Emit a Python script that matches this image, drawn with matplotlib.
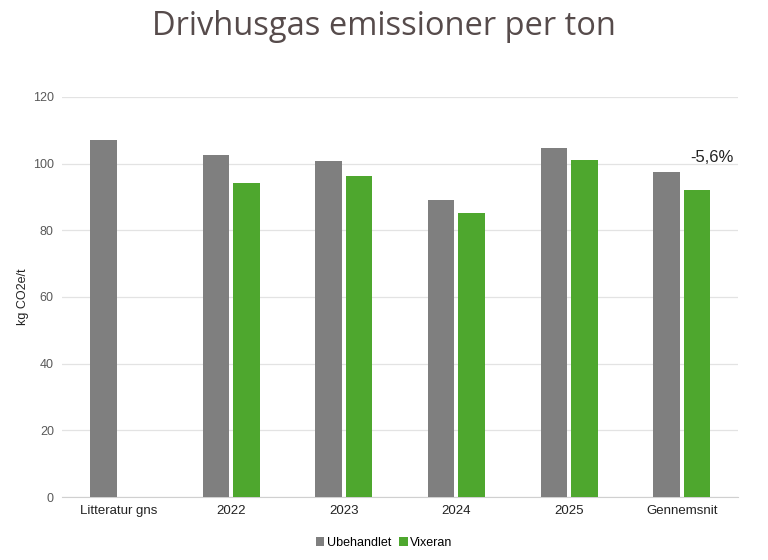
import numpy as np
import matplotlib.pyplot as plt

# data
categories = ['Litteratur gns', '2022', '2023', '2024', '2025', 'Gennemsnit']
ubehandlet = [107.0, 102.6, 100.8, 89.1, 104.7, 97.5]
vixeran = [np.nan, 94.2, 96.3, 85.2, 101.1, 92.1]
change_label = '-5,6%'

grey = '#7f7f7f'
green = '#4ea72e'
text_grey = '#595959'

fig = plt.figure(figsize=(7.68, 5.6), dpi=100)
ax = fig.add_axes([0.081, 0.1125, 0.88, 0.7145])

x = np.arange(len(categories))
w = 0.235
ax.bar(x - 0.135, ubehandlet, width=w, color=grey, label='Ubehandlet', zorder=3)
ax.bar(x + 0.135, vixeran, width=w, color=green, label='Vixeran', zorder=3)

# percentage change over the average bars
ax.text(x[-1] + 0.27, 99.5, change_label, fontsize=12, color='#222222',
        ha='center', va='bottom', family='Liberation Sans')

ax.set_xlim(-0.5, len(categories) - 0.5)
ax.set_ylim(0, 120)
ax.set_yticks(range(0, 121, 20))
ax.set_xticks(x)
ax.set_xticklabels(categories, fontsize=9.5, color='#222222', family='Liberation Sans')
for lab in ax.get_yticklabels():
    lab.set_fontsize(9)
    lab.set_color(text_grey)
    lab.set_family('Liberation Sans')
ax.tick_params(length=0, pad=6)
ax.grid(axis='y', color='#e3e3e3', linewidth=0.9, zorder=0)
for s in ['top', 'right', 'left']:
    ax.spines[s].set_visible(False)
ax.spines['bottom'].set_color('#d0d0d0')

ax.set_ylabel('kg CO2e/t', fontsize=9, color='#222222', family='Liberation Sans', labelpad=3)

fig.text(0.5, 0.952, 'Drivhusgas emissioner per ton', ha='center', va='center',
         fontsize=23.5, color='#564b4b', family='Open Sans')

fig.legend(loc='lower center', bbox_to_anchor=(0.5, 0.0), ncol=2, frameon=False,
           handlelength=0.7, handleheight=0.7, handletextpad=0.2, columnspacing=0.6,
           prop={'family': 'Liberation Sans', 'size': 9})

fig.savefig('out.png', dpi=100, facecolor='white')
